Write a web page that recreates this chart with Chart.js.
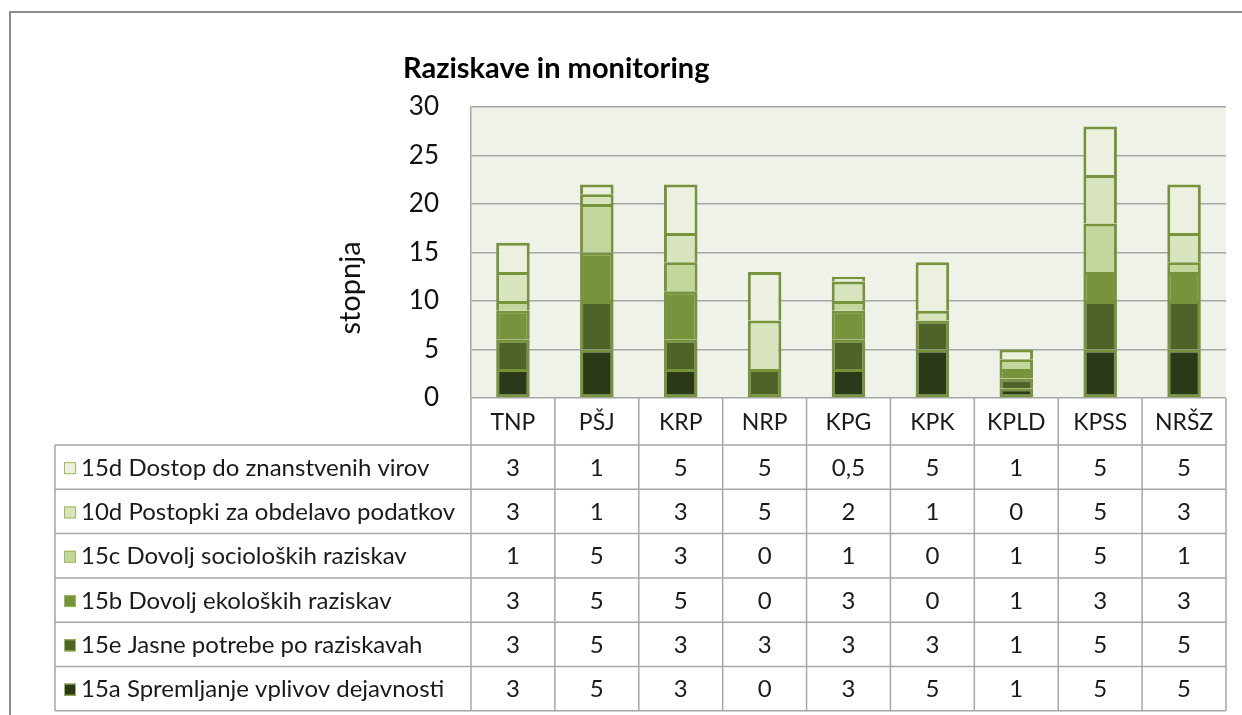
<!DOCTYPE html>
<html>
<head>
<meta charset="utf-8">
<script src="https://cdn.jsdelivr.net/npm/chart.js@4/dist/chart.umd.min.js"></script>
<style>
  html, body { margin: 0; padding: 0; background: #fff; }
  canvas { display: block; }
</style>
</head>
<body>
<canvas id="chart" width="1242" height="715"></canvas>
<script>
const categories = ['TNP', 'PŠJ', 'KRP', 'NRP', 'KPG', 'KPK', 'KPLD', 'KPSS', 'NRŠZ'];

// series, bottom of the stack first
const s15a = [3, 5, 3, 0, 3, 5, 1, 5, 5];
const s15e = [3, 5, 3, 3, 3, 3, 1, 5, 5];
const s15b = [3, 5, 5, 0, 3, 0, 1, 3, 3];
const s15c = [1, 5, 3, 0, 1, 0, 1, 5, 1];
const s10d = [3, 1, 3, 5, 2, 1, 0, 5, 3];
const s15d = [3, 1, 5, 5, 0.5, 5, 1, 5, 5];

const seriesLabels = [
  '15a Spremljanje vplivov dejavnosti',
  '15e Jasne potrebe po raziskavah',
  '15b Dovolj ekoloških raziskav',
  '15c Dovolj socioloških raziskav',
  '10d Postopki za obdelavo podatkov',
  '15d Dostop do znanstvenih virov'
];
const seriesValues = [s15a, s15e, s15b, s15c, s10d, s15d];
const seriesColors = ['#2C3918', '#4F6228', '#77933C', '#C3D69B', '#D7E4BD', '#EBF1DE'];

const yMin = 0, yMax = 30, yStep = 5;

const FONT = 'Lato, "Open Sans", sans-serif';
const LINE = '#A6A6A6';

// lowest non-zero segment of a stack keeps its bottom border
function skipFor(ctx) {
  for (let d = 0; d < ctx.datasetIndex; d++) {
    if (seriesValues[d][ctx.dataIndex] > 0) return 'start';
  }
  return false;
}

const tablePlugin = {
  id: 'tablePlugin',
  beforeDraw(chart) {
    const { ctx, chartArea } = chart;
    ctx.save();
    ctx.fillStyle = '#fff';
    ctx.fillRect(0, 0, chart.width, chart.height);
    ctx.fillStyle = '#EEF2E8';
    ctx.fillRect(chartArea.left, chartArea.top, chartArea.right - chartArea.left, chartArea.bottom - chartArea.top);
    ctx.restore();
  },
  afterDraw(chart) {
    const { ctx, chartArea } = chart;
    const x = chart.scales.x;
    const colW = (chartArea.right - chartArea.left) / categories.length;
    const headTop = chartArea.bottom;
    const tableTop = headTop + 47;
    const rowH = 44.3;
    const tableLeft = 55;
    const tableBottom = tableTop + rowH * seriesLabels.length;

    ctx.save();
    // outer frame
    ctx.strokeStyle = '#8C8C8C';
    ctx.lineWidth = 2;
    ctx.beginPath();
    ctx.moveTo(10, 715);
    ctx.lineTo(10, 12);
    ctx.lineTo(1242, 12);
    ctx.stroke();

    // title
    ctx.fillStyle = '#000';
    ctx.font = 'bold 29px ' + FONT;
    ctx.textAlign = 'left';
    ctx.textBaseline = 'alphabetic';
    ctx.fillText('Raziskave in monitoring', 403, 78);

    // y axis title, sits a bit below the middle of the axis
    ctx.save();
    ctx.translate(351, 288);
    ctx.rotate(-Math.PI / 2);
    ctx.fillStyle = '#111';
    ctx.font = '29px ' + FONT;
    ctx.textAlign = 'center';
    ctx.textBaseline = 'middle';
    ctx.fillText('stopnja', 0, 0);
    ctx.restore();

    // grid of the table
    ctx.strokeStyle = LINE;
    ctx.lineWidth = 1.5;
    ctx.beginPath();
    for (let i = 0; i <= categories.length; i++) {
      const cx = chartArea.left + i * colW;
      ctx.moveTo(cx, headTop);
      ctx.lineTo(cx, tableBottom);
    }
    for (let r = 0; r <= seriesLabels.length; r++) {
      const ry = tableTop + r * rowH;
      ctx.moveTo(tableLeft, ry);
      ctx.lineTo(chartArea.right, ry);
    }
    ctx.moveTo(tableLeft, tableTop);
    ctx.lineTo(tableLeft, tableBottom);
    ctx.stroke();

    // category header
    ctx.fillStyle = '#1A1A1A';
    ctx.font = '23px ' + FONT;
    ctx.textAlign = 'center';
    ctx.textBaseline = 'middle';
    categories.forEach((c, i) => {
      ctx.fillText(c, x.getPixelForValue(i), (headTop + tableTop) / 2 + 1);
    });

    // rows: top row is the last series
    ctx.font = '24px ' + FONT;
    for (let r = 0; r < seriesLabels.length; r++) {
      const d = seriesLabels.length - 1 - r;
      const cy = tableTop + r * rowH + rowH / 2 + 1;
      ctx.fillStyle = seriesColors[d];
      ctx.fillRect(64, cy - 6, 12, 12);
      ctx.strokeStyle = '#9BBB59';
      ctx.lineWidth = 1;
      ctx.strokeRect(64.5, cy - 5.5, 11, 11);

      ctx.fillStyle = '#1A1A1A';
      ctx.textAlign = 'left';
      ctx.fillText(seriesLabels[d], 81, cy);
      ctx.textAlign = 'center';
      seriesValues[d].forEach((v, i) => {
        ctx.fillText(String(v).replace('.', ','), x.getPixelForValue(i), cy);
      });
    }
    ctx.restore();
  }
};

new Chart(document.getElementById('chart').getContext('2d'), {
  type: 'bar',
  data: {
    labels: categories,
    datasets: seriesValues.map((vals, d) => ({
      label: seriesLabels[d],
      data: vals,
      backgroundColor: seriesColors[d],
      borderColor: '#77933C',
      borderWidth: 3,
      borderSkipped: skipFor,
      categoryPercentage: 1,
      barPercentage: 0.4
    }))
  },
  options: {
    responsive: false,
    animation: false,
    layout: { padding: { top: 107, right: 16, bottom: 317, left: 328 } },
    plugins: {
      legend: { display: false },
      title: { display: false },
      tooltip: { enabled: false }
    },
    scales: {
      x: {
        stacked: true,
        display: false
      },
      y: {
        stacked: true,
        min: yMin,
        max: yMax,
        afterFit(scale) { scale.width = 143; },
        ticks: {
          stepSize: yStep,
          padding: 32,
          color: '#111',
          font: { family: FONT, size: 26 }
        },
        grid: { color: LINE, lineWidth: 1.5, drawTicks: false },
        border: { display: true, color: LINE, width: 1.5 },
        title: { display: false }
      }
    }
  },
  plugins: [tablePlugin]
});
</script>
</body>
</html>
